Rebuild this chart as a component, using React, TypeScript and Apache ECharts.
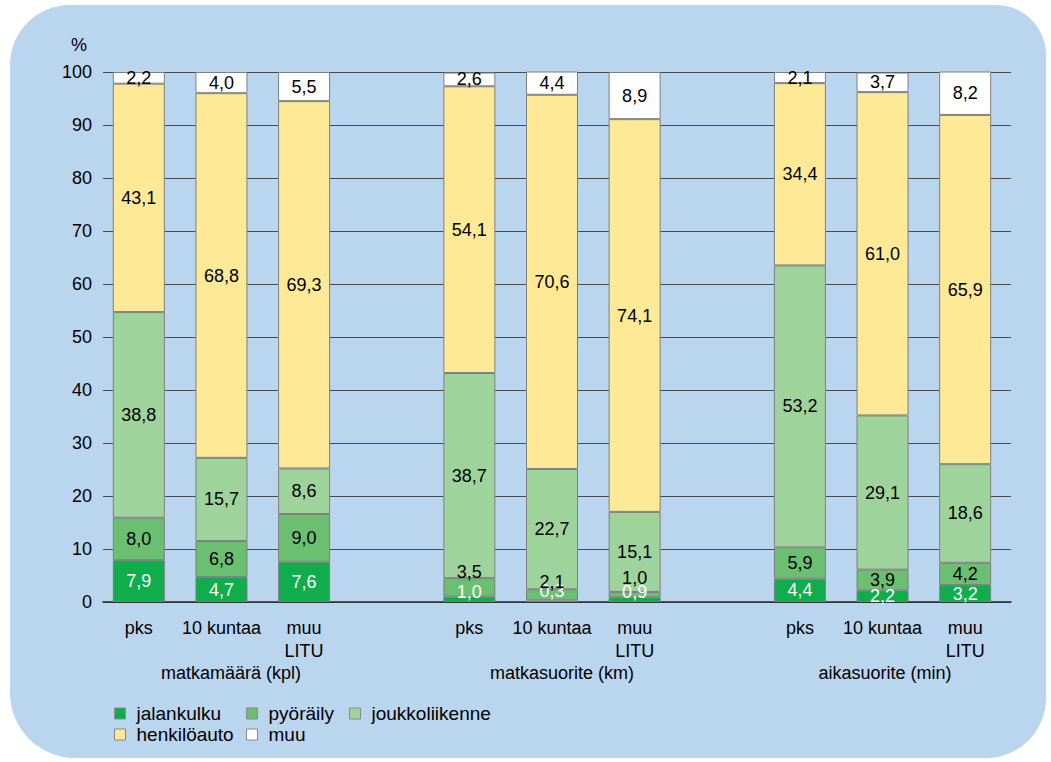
import React, { useEffect, useRef } from "react";
import * as echarts from "echarts";

// Categories: three measures × three areas, with an empty slot between groups
const categories = [
  "pks", "10 kuntaa", "muu\nLITU", "",
  "pks", "10 kuntaa", "muu\nLITU", "",
  "pks", "10 kuntaa", "muu\nLITU",
];
const groupNames = ["matkamäärä (kpl)", "matkasuorite (km)", "aikasuorite (min)"];

const jalankulku = [7.9, 4.7, 7.6, null, 1.0, 0.3, 0.9, null, 4.4, 2.2, 3.2];
const pyoraily = [8.0, 6.8, 9.0, null, 3.5, 2.1, 1.0, null, 5.9, 3.9, 4.2];
const joukkoliikenne = [38.8, 15.7, 8.6, null, 38.7, 22.7, 15.1, null, 53.2, 29.1, 18.6];
const henkiloauto = [43.1, 68.8, 69.3, null, 54.1, 70.6, 74.1, null, 34.4, 61.0, 65.9];
const muu = [2.2, 4.0, 5.5, null, 2.6, 4.4, 8.9, null, 2.1, 3.7, 8.2];

const yTicks = [0, 10, 20, 30, 40, 50, 60, 70, 80, 90, 100];

const FONT = "'Liberation Sans', Arial, sans-serif";
const FS = 18;

// Label nudges for thin segments near the baseline (index -> [dx, dy])
const jalankulkuNudge: Record<number, number[]> = { 4: [0, -7], 5: [0, -10], 6: [0, -8] };
const pyorailyNudge: Record<number, number[]> = { 4: [0, -15], 5: [0, -13], 6: [0, -17] };

const fmt = (v: number) => v.toFixed(1).replace(".", ",");

function makeSeries(
  name: string,
  values: (number | null)[],
  color: string,
  labelColor: string,
  nudge: Record<number, number[]> = {}
) {
  return {
    name,
    type: "bar",
    stack: "total",
    xAxisIndex: 1,
    yAxisIndex: 1,
    barWidth: 52,
    itemStyle: { color, borderColor: "#7f7f7f", borderWidth: 1 },
    label: {
      show: true,
      position: "inside",
      color: labelColor,
      fontSize: FS,
      fontFamily: FONT,
      formatter: (p: any) => fmt(p.value),
    },
    data: values.map((v, i) =>
      v === null
        ? "-"
        : nudge[i]
        ? { value: v, label: { offset: nudge[i] } }
        : v
    ),
  };
}

const legendItems = [
  { name: "jalankulku", left: 114, top: 704 },
  { name: "pyöräily", left: 246, top: 704 },
  { name: "joukkoliikenne", left: 349, top: 704 },
  { name: "henkilöauto", left: 114, top: 725 },
  { name: "muu", left: 246, top: 725 },
];

export default function App() {
  const ref = useRef<HTMLDivElement>(null);

  useEffect(() => {
    if (!ref.current) return;
    const chart = echarts.init(ref.current, null, { renderer: "svg" });

    const series = [
      makeSeries("jalankulku", jalankulku, "#0fad4b", "#ffffff", jalankulkuNudge),
      makeSeries("pyöräily", pyoraily, "#6bbf70", "#000000", pyorailyNudge),
      makeSeries("joukkoliikenne", joukkoliikenne, "#9ed49c", "#000000"),
      makeSeries("henkilöauto", henkiloauto, "#fee997", "#000000"),
      makeSeries("muu", muu, "#ffffff", "#000000"),
    ];

    const groupCenters = [231, 562, 885];

    chart.setOption({
      animation: false,
      textStyle: { fontFamily: FONT },
      grid: [
        { left: 103, top: 72, width: 908, height: 530 },
        { left: 97.5, top: 72, width: 909, height: 530 },
      ],
      xAxis: [
        {
          gridIndex: 0,
          type: "value",
          min: 0,
          max: 1,
          axisLine: { show: true, onZero: false, lineStyle: { color: "#2b2b2b", width: 1.5 } },
          axisTick: { show: false },
          axisLabel: { show: false },
          splitLine: { show: false },
        },
        {
          gridIndex: 1,
          type: "category",
          data: categories,
          axisLine: { show: false },
          axisTick: { show: false },
          axisLabel: {
            interval: 0,
            margin: 14,
            fontSize: FS,
            lineHeight: 23,
            color: "#000000",
            fontFamily: FONT,
          },
        },
      ],
      yAxis: [
        {
          gridIndex: 0,
          type: "value",
          min: yTicks[0],
          max: yTicks[yTicks.length - 1],
          interval: 10,
          axisLine: { show: false },
          axisTick: { show: false },
          axisLabel: { fontSize: FS, color: "#000000", margin: 11, fontFamily: FONT },
          splitLine: { lineStyle: { color: "#4a4a4a", width: 1 } },
        },
        {
          gridIndex: 1,
          type: "value",
          min: 0,
          max: 100,
          show: false,
          splitLine: { show: false },
        },
      ],
      legend: legendItems.map((it) => ({
        data: [it.name],
        left: it.left,
        top: it.top,
        padding: 0,
        itemWidth: 11,
        itemHeight: 11,
        icon: "rect",
        itemStyle: { borderColor: "#8a8a8a", borderWidth: 1 },
        textStyle: { fontSize: 19, color: "#000000", fontFamily: FONT, padding: [0, 0, 0, 6] },
        selectedMode: false,
      })),
      graphic: [
        {
          type: "text",
          left: 71,
          top: 36,
          style: { text: "%", fontSize: FS, fill: "#000000", fontFamily: FONT },
        },
        ...groupNames.map((g, i) => ({
          type: "text",
          x: groupCenters[i],
          y: 673,
          style: {
            text: g,
            fontSize: FS,
            fill: "#000000",
            fontFamily: FONT,
            align: "center",
            verticalAlign: "middle",
          },
        })),
      ],
      series,
    });

    return () => chart.dispose();
  }, []);

  return (
    <div
      style={{
        position: "absolute",
        left: 0,
        top: 0,
        width: 1051,
        height: 762,
        background: "#ffffff",
        overflow: "hidden",
      }}
    >
      <div
        style={{
          position: "absolute",
          left: 10,
          top: 5,
          width: 1036,
          height: 753,
          background: "#bad5ee",
          borderRadius: "60px 50px 60px 65px",
        }}
      />
      <div
        ref={ref}
        style={{ position: "absolute", left: 0, top: 0, width: 1051, height: 762 }}
      />
    </div>
  );
}
